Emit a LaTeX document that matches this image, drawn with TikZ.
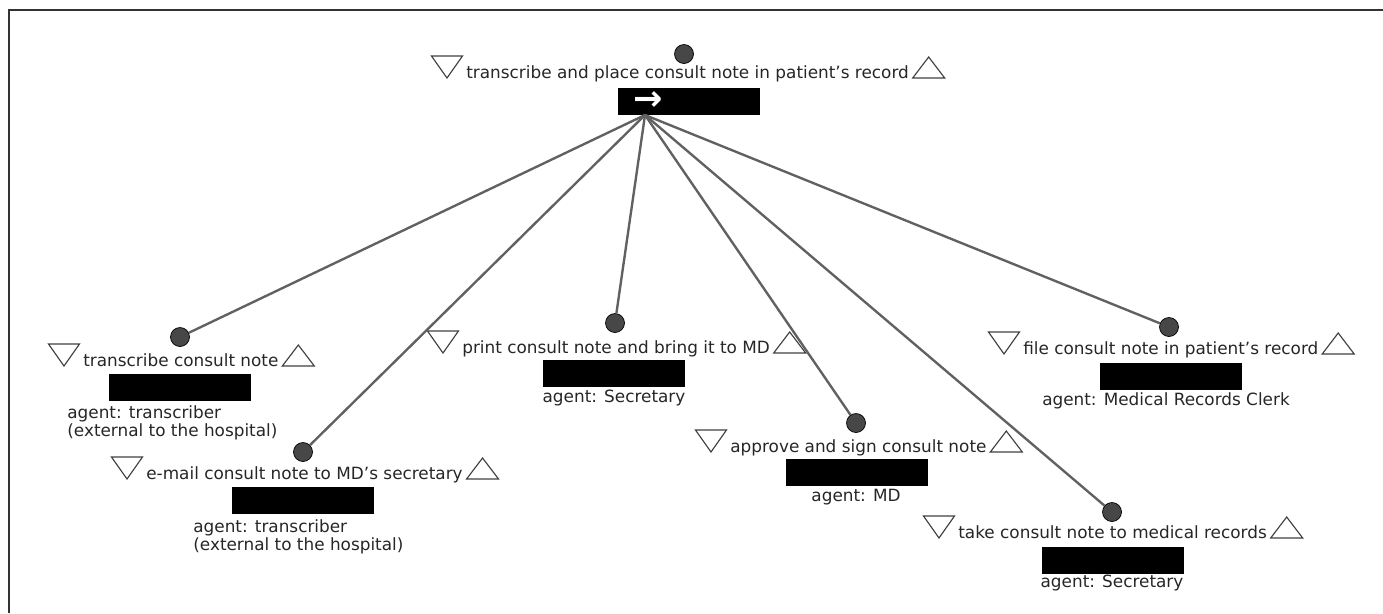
\documentclass[tikz,border=0pt]{standalone}
\usepackage{fontspec}
\setmainfont{DejaVu Sans}
\usepackage{tikz}

\begin{document}
\begin{tikzpicture}[x=0.02cm,y=-0.02cm,
  title/.style={anchor=base west,inner sep=0pt,font=\fontsize{9.6}{10.2}\selectfont,text=black!85},
  agent/.style={inner sep=0pt,font=\fontsize{9.6}{10.2}\selectfont,text=black!85},
  bar/.style={anchor=north west,fill=black,minimum width=2.84cm,minimum height=0.54cm,inner sep=0pt},
  dot/.style={circle,draw=black,fill=black!72,minimum size=0.38cm,inner sep=0pt},
  link/.style={draw=black!62,line width=1.35pt},
  tri/.style={draw=black!75,line width=0.65pt}]
\useasboundingbox (0,0) rectangle (1383,613);
\draw[black!80,line width=1.2pt] (9,613) -- (9,10) -- (1383,10);

  \node[dot] (d0) at (684,54) {};
  \node[title] (t0) at (466,78) {transcribe and place consult note in patient's record};
  \draw[tri] ([xshift=-2]t0.base west) ++(0,-22) -- ++(-31,0) -- ++(15.5,22) -- cycle;
  \draw[tri] ([xshift=2]t0.base east) -- ++(32,0) -- ++(-16,-21) -- cycle;
  \node[bar] (b0) at (618,88) {};
  \node[text=white,inner sep=0pt,font=\fontsize{20}{20}\selectfont\bfseries] (arr) at (648,101) {→};
  \coordinate (hub) at (645,115);

  \node[dot] (d1) at (180,337) {};
  \node[title] (t1) at (83,366) {transcribe consult note};
  \draw[tri] ([xshift=-2]t1.base west) ++(0,-22) -- ++(-31,0) -- ++(15.5,22) -- cycle;
  \draw[tri] ([xshift=2]t1.base east) -- ++(32,0) -- ++(-16,-21) -- cycle;
  \node[bar] (b1) at (109,374) {};
  \node[agent,anchor=north west,align=left] (a1) at (67,405) {agent: transcriber\\(external to the hospital)};

  \node[dot] (d2) at (303,452) {};
  \node[title] (t2) at (146,479) {e-mail consult note to MD's secretary};
  \draw[tri] ([xshift=-2]t2.base west) ++(0,-22) -- ++(-31,0) -- ++(15.5,22) -- cycle;
  \draw[tri] ([xshift=2]t2.base east) -- ++(32,0) -- ++(-16,-21) -- cycle;
  \node[bar] (b2) at (232,487) {};
  \node[agent,anchor=north west,align=left] (a2) at (193,519) {agent: transcriber\\(external to the hospital)};

  \node[dot] (d3) at (615,323) {};
  \node[title] (t3) at (462,353) {print consult note and bring it to MD};
  \draw[tri] ([xshift=-2]t3.base west) ++(0,-22) -- ++(-31,0) -- ++(15.5,22) -- cycle;
  \draw[tri] ([xshift=2]t3.base east) -- ++(32,0) -- ++(-16,-21) -- cycle;
  \node[bar] (b3) at (543,360) {};
  \node[agent,anchor=north] (a3) at (614,390) {agent: Secretary};

  \node[dot] (d4) at (856,423) {};
  \node[title] (t4) at (730,452) {approve and sign consult note};
  \draw[tri] ([xshift=-2]t4.base west) ++(0,-22) -- ++(-31,0) -- ++(15.5,22) -- cycle;
  \draw[tri] ([xshift=2]t4.base east) -- ++(32,0) -- ++(-16,-21) -- cycle;
  \node[bar] (b4) at (786,459) {};
  \node[agent,anchor=north] (a4) at (856,489) {agent: MD};

  \node[dot] (d5) at (1169,327) {};
  \node[title] (t5) at (1023,354) {file consult note in patient's record};
  \draw[tri] ([xshift=-2]t5.base west) ++(0,-22) -- ++(-31,0) -- ++(15.5,22) -- cycle;
  \draw[tri] ([xshift=2]t5.base east) -- ++(32,0) -- ++(-16,-21) -- cycle;
  \node[bar] (b5) at (1100,363) {};
  \node[agent,anchor=north] (a5) at (1166,392) {agent: Medical Records Clerk};

  \node[dot] (d6) at (1112,512) {};
  \node[title] (t6) at (958,538) {take consult note to medical records};
  \draw[tri] ([xshift=-2]t6.base west) ++(0,-22) -- ++(-31,0) -- ++(15.5,22) -- cycle;
  \draw[tri] ([xshift=2]t6.base east) -- ++(32,0) -- ++(-16,-21) -- cycle;
  \node[bar] (b6) at (1042,547) {};
  \node[agent,anchor=north] (a6) at (1112,575) {agent: Secretary};

  \foreach \n in {1,...,6}
    \draw[link] (hub) -- (d\n);
\end{tikzpicture}
\end{document}
